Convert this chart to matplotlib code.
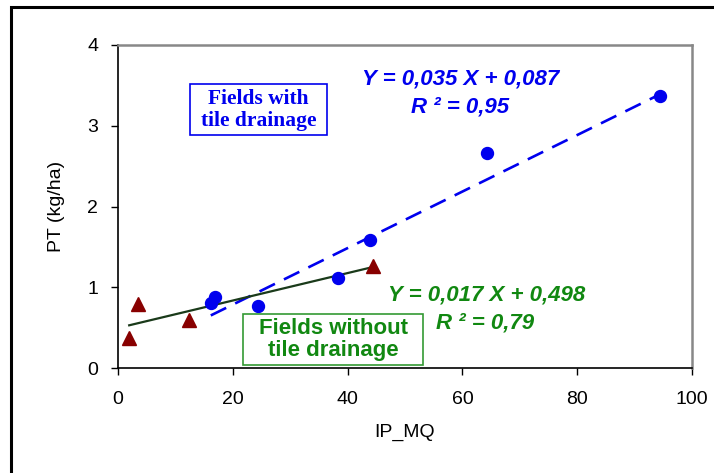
import matplotlib
matplotlib.use("Agg")
import matplotlib.pyplot as plt
import numpy as np
from matplotlib.patches import Rectangle

# Data
tile_x = [16.2, 17.0, 24.4, 38.4, 43.9, 64.3, 94.3]
tile_y = [0.81, 0.88, 0.77, 1.12, 1.585, 2.66, 3.37]
notile_x = [2.0, 3.5, 12.4, 44.5]
notile_y = [0.38, 0.79, 0.60, 1.26]
tile_fit = (0.035, 0.087)
notile_fit = (0.017, 0.498)
xticks = [0, 20, 40, 60, 80, 100]
yticks = [0, 1, 2, 3, 4]

plt.rcParams['font.family'] = ['Liberation Sans', 'DejaVu Sans']

fig = plt.figure(figsize=(7.14, 4.73), dpi=100)
ax = fig.add_axes([117.7/714, 1-368.3/473, 574.6/714, 323.3/473])

# outer frame
fig.patches.append(Rectangle((11/714, -0.05), 1.2, 1-7/473+0.05, transform=fig.transFigure,
                             fill=False, edgecolor='black', linewidth=2.2, zorder=10))

blue = '#0000ee'
green = '#118811'

# fits
xt = np.array([min(tile_x), max(tile_x)])
ax.plot(xt, tile_fit[0]*xt + tile_fit[1], color=blue, lw=1.9, dashes=(6.5, 3.8), zorder=2)
xn = np.array([min(notile_x), max(notile_x)])
ax.plot(xn, notile_fit[0]*xn + notile_fit[1], color='#1a3a1a', lw=1.6, zorder=2)

ax.plot(tile_x, tile_y, 'o', color=blue, ms=8.6, mec=blue, zorder=3)
ax.plot(notile_x, notile_y, '^', color='#880000', ms=10, mec='#880000', zorder=3)

ax.set_xlim(0, 100)
ax.set_ylim(0, 4)
ax.set_xticks(xticks)
ax.set_yticks(yticks)
ax.tick_params(direction='out', length=5, width=1, labelsize=14, pad=9)
ax.tick_params(axis='x', pad=11)
for s in ['left', 'bottom']:
    ax.spines[s].set_color('black')
    ax.spines[s].set_linewidth(1.2)
for s in ['right', 'top']:
    ax.spines[s].set_color('#888888')
    ax.spines[s].set_linewidth(1.8)

ax.set_xlabel('IP_MQ', fontsize=14, labelpad=12)
ax.set_ylabel('PT (kg/ha)', fontsize=14, labelpad=16)

eqkw = dict(fontsize=16, fontweight='bold', fontstyle='italic', ha='center', va='center')
ax.text(59.7, 3.58, 'Y = 0,035 X + 0,087', color=blue, **eqkw)
ax.text(59.5, 3.23, 'R ² = 0,95', color=blue, **eqkw)
ax.text(64.2, 0.907, 'Y = 0,017 X + 0,498', color=green, **eqkw)
ax.text(64.0, 0.56, 'R ² = 0,79', color=green, **eqkw)

# label boxes
ax.add_patch(Rectangle((12.58, 2.887), 36.4-12.58, 3.519-2.887, fc='white', ec=blue, lw=1.2, zorder=4))
ax.text(24.5, 3.20, 'Fields with\ntile drainage', color=blue, fontsize=15.5, fontweight='bold',
        family=['Liberation Serif'], ha='center', va='center', linespacing=1.15, zorder=5)
ax.add_patch(Rectangle((21.8, 0.04), 53.1-21.8, 0.672-0.04, fc='white', ec='#339933', lw=1.2, zorder=4))
ax.text(37.5, 0.356, 'Fields without\ntile drainage', color=green, fontsize=16, fontweight='bold',
        ha='center', va='center', linespacing=1.1, zorder=5)

fig.savefig('out.png', dpi=100)
